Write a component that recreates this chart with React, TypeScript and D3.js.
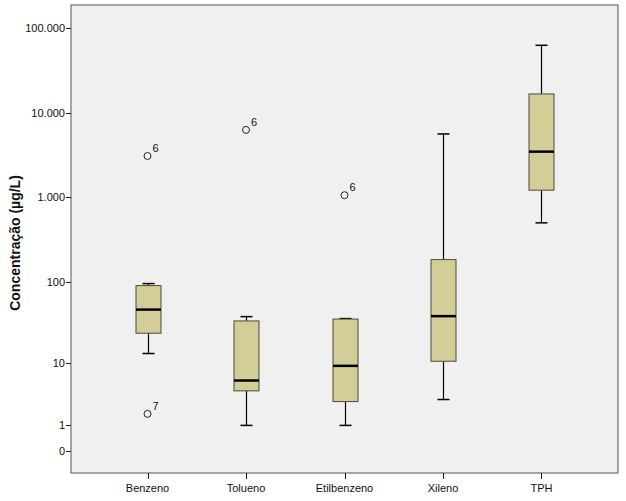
import React from "react";
import * as d3 from "d3";

const categories = ["Benzeno", "Tolueno", "Etilbenzeno", "Xileno", "TPH"];
const whiskerLow = [13.2, 1.0, 1.0, 3.05, 499];
const q1 = [23.7, 4.13, 2.83, 10.5, 1217];
const median = [46, 5.8, 9.14, 38.3, 3484];
const q3 = [89.4, 33.5, 35.3, 182.6, 16790];
const whiskerHigh = [94.5, 37.8, 35.8, 5640, 63240];
const outlierCat = ["Benzeno", "Benzeno", "Tolueno", "Etilbenzeno"];
const outlierVal = [3096, 1.74, 6295, 1061];
const outlierLbl = ["6", "7", "6", "6"];
const yTicks = [0, 1, 10, 100, 1000, 10000, 100000];
const yTickLabels = ["0", "1", "10", "100", "1.000", "10.000", "100.000"];
const yTitle = "Concentração (µg/L)";

const W = 626;
const H = 501;
const left = 71;
const right = 618;
const top = 5;
const bottom = 473;

export default function App() {
  const x = d3.scalePoint<string>().domain(categories).range([left, right]).padding(0.777);
  const y = d3.scaleSymlog().constant(1).domain([-0.83, 189700]).range([bottom, top]);
  const bw = 25;
  const font = "Arial, 'Liberation Sans', sans-serif";

  return (
    <svg width={W} height={H} style={{ position: "absolute", left: 0, top: 0, background: "#fff" }}>
      <rect x={left} y={top} width={right - left} height={bottom - top} fill="#F0F0F0" stroke="#555" strokeWidth={1} />
      {yTicks.map((t, i) => (
        <g key={t}>
          <line x1={left - 5} x2={left} y1={Math.round(y(t)) + 0.5} y2={Math.round(y(t)) + 0.5} stroke="#222" />
          <text x={left - 6} y={Math.round(y(t)) + 4} textAnchor="end" fontSize={11} fontFamily={font} fill="#111">
            {yTickLabels[i]}
          </text>
        </g>
      ))}
      {categories.map((c) => (
        <g key={c}>
          <line x1={Math.round(x(c)!) + 0.5} x2={Math.round(x(c)!) + 0.5} y1={bottom} y2={bottom + 6} stroke="#222" />
          <text x={x(c)!} y={492} textAnchor="middle" fontSize={11} fontFamily={font} fill="#111">
            {c}
          </text>
        </g>
      ))}
      <text
        transform={`translate(20,243) rotate(-90)`}
        textAnchor="middle"
        fontSize={14}
        fontWeight="bold"
        fontFamily={font}
        fill="#111"
      >
        {yTitle}
      </text>
      {categories.map((c, i) => {
        const cx = Math.round(x(c)!) + 0.5;
        return (
          <g key={c}>
            <line x1={cx} x2={cx} y1={y(whiskerHigh[i])} y2={y(q3[i])} stroke="#000" strokeWidth={1.2} />
            <line x1={cx} x2={cx} y1={y(q1[i])} y2={y(whiskerLow[i])} stroke="#000" strokeWidth={1.2} />
            <line x1={cx - 6} x2={cx + 6} y1={y(whiskerHigh[i])} y2={y(whiskerHigh[i])} stroke="#000" strokeWidth={1.5} />
            <line x1={cx - 6} x2={cx + 6} y1={y(whiskerLow[i])} y2={y(whiskerLow[i])} stroke="#000" strokeWidth={1.5} />
            <rect
              x={cx - bw / 2}
              y={y(q3[i])}
              width={bw}
              height={y(q1[i]) - y(q3[i])}
              fill="#D3CE97"
              stroke="#4d4a35"
              strokeWidth={1}
            />
            <line x1={cx - bw / 2} x2={cx + bw / 2} y1={y(median[i])} y2={y(median[i])} stroke="#000" strokeWidth={2.5} />
          </g>
        );
      })}
      {outlierVal.map((v, i) => {
        const cx = x(outlierCat[i])!;
        const cy = y(v);
        return (
          <g key={i}>
            <circle cx={cx} cy={cy} r={3.5} fill="none" stroke="#222" strokeWidth={1} />
            <text x={cx + 5} y={cy - 4} fontSize={11} fontFamily={font} fill="#111">
              {outlierLbl[i]}
            </text>
          </g>
        );
      })}
    </svg>
  );
}
